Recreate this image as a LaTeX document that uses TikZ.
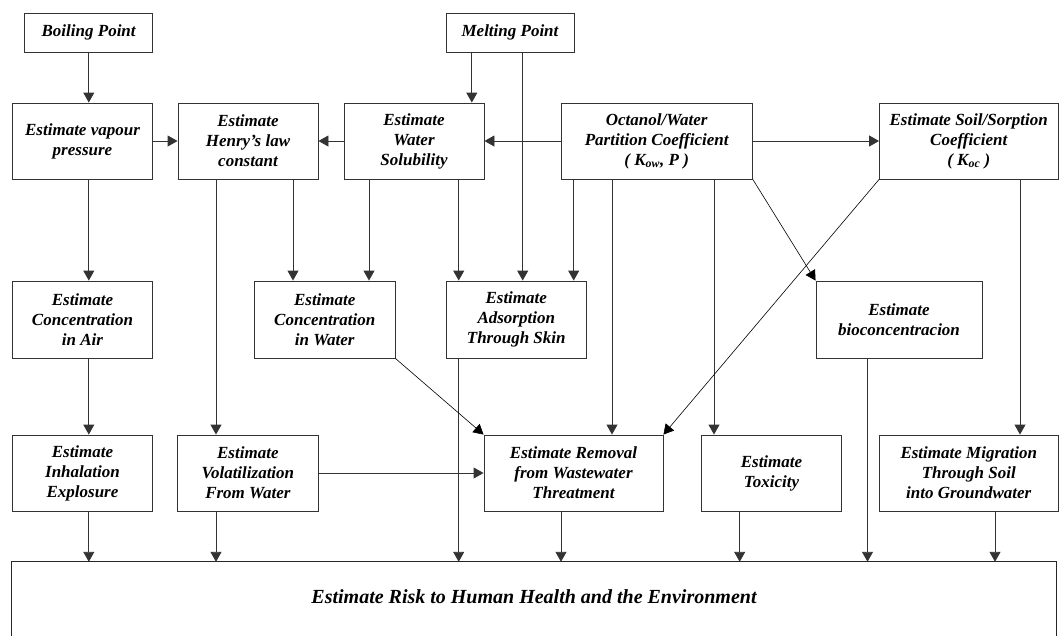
\documentclass[tikz,border=0pt]{standalone}
\usepackage{fontspec}
\setmainfont{Liberation Serif}
\usetikzlibrary{arrows.meta}
\begin{document}
\begin{tikzpicture}[x=1pt,y=-1pt,
  box/.style={draw=black!80,line width=0.9pt,fill=white,align=center,inner sep=0pt,
    font=\bfseries\itshape\fontsize{17}{20}\selectfont},
  arr/.style={draw=black!80,line width=0.9pt,-{Triangle[length=10pt,width=11pt]}},
  darr/.style={draw=black,line width=0.6pt,-{Triangle[length=10pt,width=11pt]}}]
\useasboundingbox (0,0) rectangle (1060,635);
% row 1
\node[box,minimum width=127.7pt,minimum height=39pt] (boil) at (88.65,32.5) {Boiling Point};
\node[box,minimum width=128pt,minimum height=39pt] (melt) at (510,32.5) {Melting Point};
% row 2
\node[box,minimum width=140pt,minimum height=76pt] (vap) at (82.5,141) {Estimate vapour\\pressure};
\node[box,minimum width=140pt,minimum height=76pt] (henry) at (248,141) {Estimate\\Henry’s law\\constant};
\node[box,minimum width=140pt,minimum height=76pt] (sol) at (414,141) {Estimate\\Water\\Solubility};
\node[box,minimum width=191.4pt,minimum height=76pt] (oct) at (656.7,141) {Octanol/Water\\Partition Coefficient\\( K\textsubscript{ow}, P )};
\node[box,minimum width=178.5pt,minimum height=76pt] (soil) at (968.75,141) {Estimate Soil/Sorption\\Coefficient\\( K\textsubscript{oc} )};
% row 3
\node[box,minimum width=140pt,minimum height=77pt] (cair) at (82.5,319.5) {Estimate\\Concentration\\in Air};
\node[box,minimum width=140.5pt,minimum height=77pt] (cwat) at (324.75,319.5) {Estimate\\Concentration\\in Water};
\node[box,minimum width=140.5pt,minimum height=77pt] (ads) at (516.25,319.5) {Estimate\\Adsorption\\Through Skin};
\node[box,minimum width=166pt,minimum height=77pt] (bio) at (899,319.5) {Estimate\\bioconcentracion};
% row 4
\node[box,minimum width=140pt,minimum height=76pt] (inh) at (82.5,473) {Estimate\\Inhalation\\Explosure};
\node[box,minimum width=140.3pt,minimum height=76pt] (vol) at (247.85,473) {Estimate\\Volatilization\\From Water};
\node[box,minimum width=179pt,minimum height=76pt] (rem) at (573.5,473) {Estimate Removal\\from Wastewater\\Threatment};
\node[box,minimum width=140pt,minimum height=76pt] (tox) at (771.5,473) {Estimate\\Toxicity};
\node[box,minimum width=178.5pt,minimum height=76pt] (mig) at (968.75,473) {Estimate Migration\\Through Soil\\into Groundwater};
% bottom
\node[align=center,inner sep=0pt,minimum width=1044pt,minimum height=70pt,
  font=\bfseries\itshape\fontsize{20}{24}\selectfont] (risk) at (534,597)
  {Estimate Risk to Human Health and the Environment};
\draw[black!85,line width=0.9pt] ([yshift=-15pt]risk.south west) |- (risk.north east) -- ([yshift=-15pt]risk.south east);
% column coordinates
\coordinate (xa) at (88.8,0);
\coordinate (xh) at (216,0);
\coordinate (xhw) at (293,0);
\coordinate (xwc) at (369,0);
\coordinate (xws) at (458.7,0);
\coordinate (xm1) at (471.8,0);
\coordinate (xm2) at (522.7,0);
\coordinate (xrb) at (561,0);
\coordinate (xo1) at (573.7,0);
\coordinate (xo2) at (612,0);
\coordinate (xo3) at (714,0);
\coordinate (xtb) at (739.7,0);
\coordinate (xbio) at (867.5,0);
\coordinate (xmb) at (995,0);
\coordinate (xs) at (1020,0);
% vertical arrows
\draw[arr] (boil.south -| xa) -- (vap.north -| xa);
\draw[arr] (vap.south -| xa) -- (cair.north -| xa);
\draw[arr] (cair.south -| xa) -- (inh.north -| xa);
\draw[arr] (inh.south -| xa) -- (risk.north -| xa);
\draw[arr] (henry.south -| xh) -- (vol.north -| xh);
\draw[arr] (vol.south -| xh) -- (risk.north -| xh);
\draw[arr] (henry.south -| xhw) -- (cwat.north -| xhw);
\draw[arr] (sol.south -| xwc) -- (cwat.north -| xwc);
\draw[arr] (sol.south -| xws) -- (ads.north -| xws);
\draw[arr] (ads.south -| xws) -- (risk.north -| xws);
\draw[arr] (melt.south -| xm1) -- (sol.north -| xm1);
\draw[arr] (melt.south -| xm2) -- (ads.north -| xm2);
\draw[arr] (oct.south -| xo1) -- (ads.north -| xo1);
\draw[arr] (oct.south -| xo2) -- (rem.north -| xo2);
\draw[arr] (rem.south -| xrb) -- (risk.north -| xrb);
\draw[arr] (oct.south -| xo3) -- (tox.north -| xo3);
\draw[arr] (tox.south -| xtb) -- (risk.north -| xtb);
\draw[arr] (bio.south -| xbio) -- (risk.north -| xbio);
\draw[arr] (soil.south -| xs) -- (mig.north -| xs);
\draw[arr] (mig.south -| xmb) -- (risk.north -| xmb);
% horizontal arrows
\draw[arr] (vap.east) -- (henry.west);
\draw[arr] (sol.west) -- (henry.east);
\draw[arr] (oct.west) -- (sol.east);
\draw[arr] (oct.east) -- (soil.west);
\draw[arr] (vol.east) -- (rem.west);
% diagonal arrows
\draw[darr] (oct.south east) -- (bio.north west);
\draw[darr] (soil.south west) -- (rem.north east);
\draw[darr] (cwat.south east) -- (rem.north west);
\end{tikzpicture}
\end{document}
